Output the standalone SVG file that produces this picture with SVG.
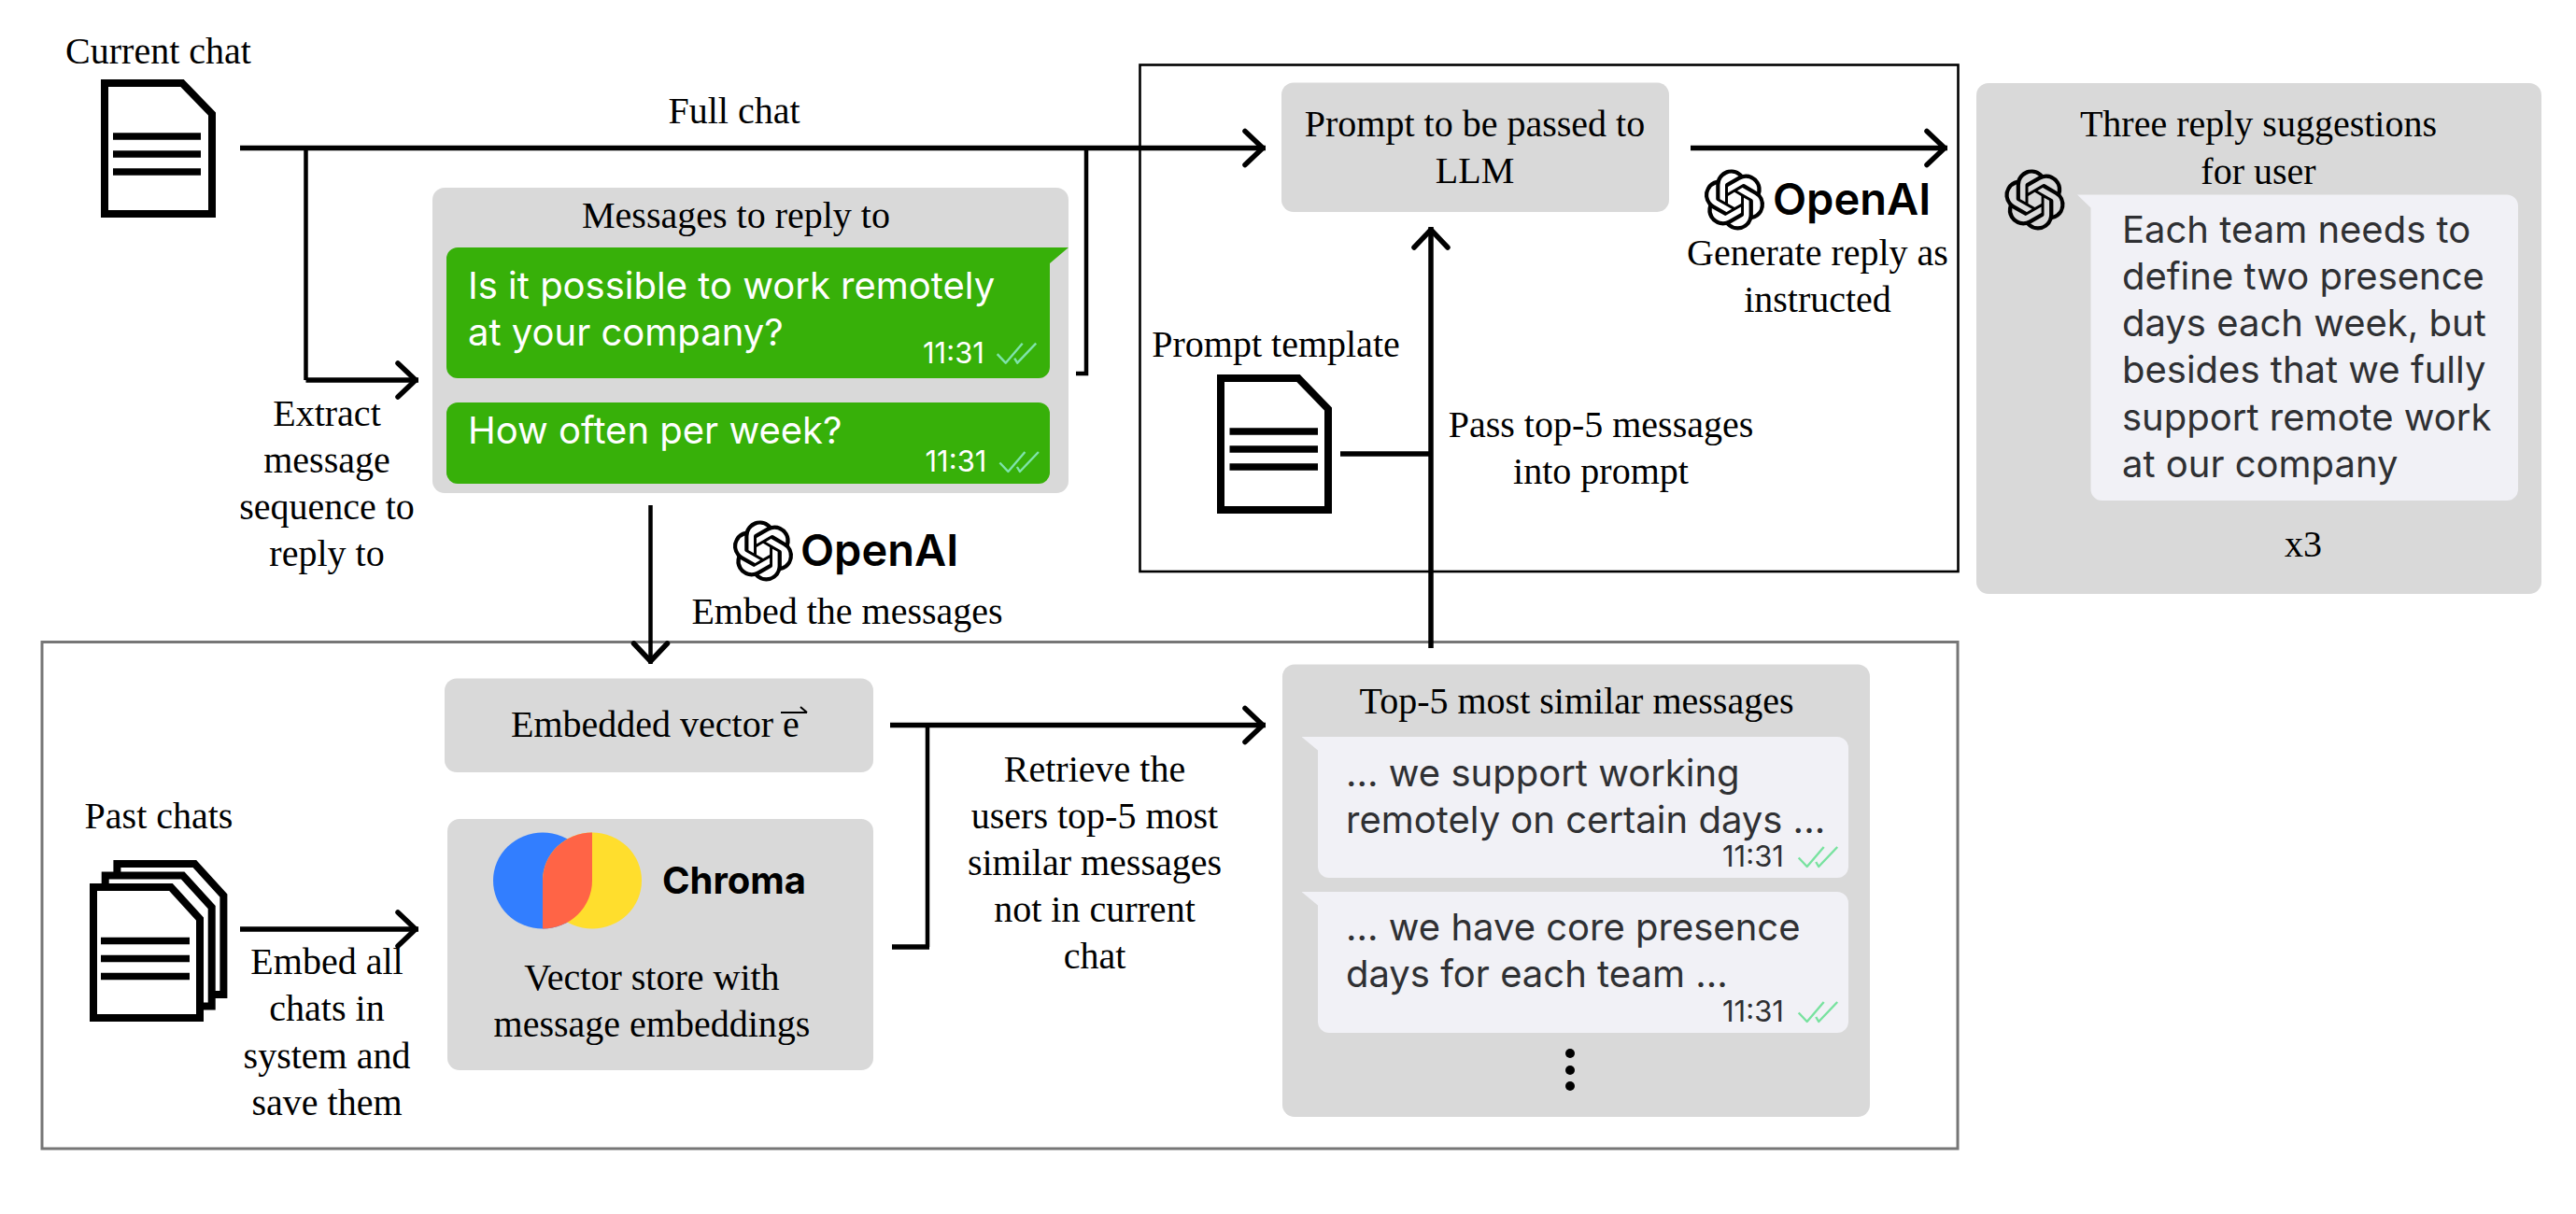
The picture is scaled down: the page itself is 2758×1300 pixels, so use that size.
<svg xmlns="http://www.w3.org/2000/svg" xmlns:xlink="http://www.w3.org/1999/xlink" width="2758" height="1300" viewBox="0 0 2758 1300">
<style>
.t{font-family:"Liberation Serif","Times New Roman",serif;font-size:40px;fill:#000;text-anchor:middle}
.tl{text-anchor:start}
.m{font-family:Inter,"Liberation Sans",sans-serif;font-size:40px;fill:#2f3033}
.w{fill:#fff}
.time{font-family:Inter,"Liberation Sans",sans-serif;font-size:31px}
.oa{font-family:Inter,"Liberation Sans",sans-serif;font-size:47px;font-weight:600;fill:#000}
.panel{fill:#d9d9d9}
.green{fill:#37b009}
.light{fill:#f1f1f6}
.doc{fill:#fff;stroke:#000;stroke-width:8;stroke-linejoin:miter}
.bar{stroke:#000;stroke-width:7.5;fill:none}
.chk{fill:none;stroke-width:2.4;stroke-linejoin:round}
.c5{fill:none;stroke:#000;stroke-width:5.5}
.c4{fill:none;stroke:#000;stroke-width:4.5}
</style>
<defs>
<marker id="arrow" markerUnits="userSpaceOnUse" markerWidth="30" markerHeight="46" refX="27" refY="23" orient="auto" viewBox="0 0 30 46">
<path d="M5,5 L24,23 L5,41" fill="none" stroke="#000" stroke-width="5.5" stroke-linecap="round" stroke-linejoin="round"/>
</marker>
<symbol id="openai" viewBox="0 0 24 24" overflow="visible">
<path fill="#000" d="M22.2819 9.8211a5.9847 5.9847 0 0 0-.5157-4.9108 6.0462 6.0462 0 0 0-6.5098-2.9A6.0651 6.0651 0 0 0 4.9807 4.1818a5.9847 5.9847 0 0 0-3.9977 2.9 6.0462 6.0462 0 0 0 .7427 7.0966 5.98 5.98 0 0 0 .511 4.9107 6.051 6.051 0 0 0 6.5146 2.9001A5.9847 5.9847 0 0 0 13.2599 24a6.0557 6.0557 0 0 0 5.7718-4.2058 5.9894 5.9894 0 0 0 3.9977-2.9001 6.0557 6.0557 0 0 0-.7475-7.0729zm-9.022 12.6081a4.4755 4.4755 0 0 1-2.8764-1.0408l.1419-.0804 4.7783-2.7582a.7948.7948 0 0 0 .3927-.6813v-6.7369l2.02 1.1686a.071.071 0 0 1 .038.052v5.5826a4.504 4.504 0 0 1-4.4945 4.4944zm-9.6607-4.1254a4.4708 4.4708 0 0 1-.5346-3.0137l.142.0852 4.783 2.7582a.7712.7712 0 0 0 .7806 0l5.8428-3.3685v2.3324a.0804.0804 0 0 1-.0332.0615L9.74 19.9502a4.4992 4.4992 0 0 1-6.1408-1.6464zM2.3408 7.8956a4.485 4.485 0 0 1 2.3655-1.9728V11.6a.7664.7664 0 0 0 .3879.6765l5.8144 3.3543-2.0201 1.1685a.0757.0757 0 0 1-.071 0l-4.8303-2.7865A4.504 4.504 0 0 1 2.3408 7.872zm16.5963 3.8558L13.1038 8.364 15.1192 7.2a.0757.0757 0 0 1 .071 0l4.8303 2.7913a4.4944 4.4944 0 0 1-.6765 8.1042v-5.6772a.79.79 0 0 0-.407-.667zm2.0107-3.0231l-.142-.0852-4.7735-2.7818a.7759.7759 0 0 0-.7854 0L9.409 9.2297V6.8974a.0662.0662 0 0 1 .0284-.0615l4.8303-2.7866a4.4992 4.4992 0 0 1 6.6802 4.66zM8.3065 12.863l-2.02-1.1638a.0804.0804 0 0 1-.038-.0567V6.0742a4.4992 4.4992 0 0 1 7.3757-3.4537l-.142.0805L8.704 5.459a.7948.7948 0 0 0-.3927.6813zm1.0976-2.3654l2.602-1.4998 2.6069 1.4998v2.9994l-2.5974 1.4997-2.6067-1.4997Z"/>
</symbol>
<g id="ticks"><path d="M0,11.5 L9,21 L27,0"/><path d="M18.5,16 L21.5,21 L41.5,0"/></g>
</defs>

<g id="frames">
<rect id="frame-retrieval" x="45" y="687.5" width="2051" height="542.5" fill="none" stroke="#767676" stroke-width="3"/>
<rect id="frame-prompt" x="1220.5" y="69.5" width="876" height="542.5" fill="none" stroke="#000" stroke-width="2.6"/>
</g>

<g id="connectors">
<path class="c5" d="M257,158.5 H1355" marker-end="url(#arrow)"/>
<path class="c4" d="M327.5,158.5 V407"/>
<path class="c5" d="M327.5,407 H448" marker-end="url(#arrow)"/>
<path class="c4" d="M1163,158.5 V400 H1152"/>
<path class="c4" d="M696.5,541 V711" marker-end="url(#arrow)"/>
<path class="c5" d="M1810,158.5 H2085" marker-end="url(#arrow)"/>
<path class="c5" d="M1532,694 V243" marker-end="url(#arrow)"/>
<path class="c5" d="M1435,486 H1532"/>
<path class="c5" d="M257,995 H448" marker-end="url(#arrow)"/>
<path class="c5" d="M953,776.5 H1355" marker-end="url(#arrow)"/>
<path class="c4" d="M993,776.5 V1014"/>
<path class="c5" d="M955,1014 H995"/>
</g>

<g id="node-current-chat">
<text class="t" x="169.5" y="68">Current chat</text>
<path class="doc" d="M112,89 H195 L227,122 V229 H112 Z"/>
<path class="bar" d="M121,146 H215 M121,165 H215 M121,184 H215"/>
</g>

<g id="label-full-chat"><text class="t" x="786" y="131.5">Full chat</text></g>

<g id="label-extract">
<text class="t" x="350" y="455.5">Extract</text>
<text class="t" x="350" y="506">message</text>
<text class="t" x="350" y="556">sequence to</text>
<text class="t" x="350" y="606">reply to</text>
</g>

<g id="node-messages">
<rect class="panel" x="463" y="201" width="681" height="327" rx="13"/>
<text class="t" x="788" y="244">Messages to reply to</text>
<path class="green" d="M490,265 H1144 L1124,282 V393 A12,12 0 0 1 1112,405 H490 A12,12 0 0 1 478,393 V277 A12,12 0 0 1 490,265 Z"/>
<text class="m w" x="501" y="320">Is it possible to work remotely</text>
<text class="m w" x="501" y="370">at your company?</text>
<text class="time w" x="988" y="389">11:31</text>
<use href="#ticks" class="chk" stroke="#7fe3ab" x="1067.7" y="367.7"/>
<rect class="green" x="478" y="431" width="646" height="87" rx="12"/>
<text class="m w" x="501" y="475">How often per week?</text>
<text class="time w" x="990.5" y="505">11:31</text>
<use href="#ticks" class="chk" stroke="#7fe3ab" x="1070.4" y="484"/>
</g>

<g id="node-openai-embed">
<use href="#openai" x="784.5" y="557.5" width="65" height="65"/>
<text class="oa" x="857" y="606">OpenAI</text>
<text class="t" x="907" y="668">Embed the messages</text>
</g>

<g id="node-prompt">
<rect class="panel" x="1372" y="88.5" width="415" height="138.5" rx="13"/>
<text class="t" x="1579" y="146">Prompt to be passed to</text>
<text class="t" x="1579" y="196">LLM</text>
</g>

<g id="node-openai-generate">
<use href="#openai" x="1824.5" y="181.5" width="65" height="65"/>
<text class="oa" x="1898" y="229.5">OpenAI</text>
<text class="t" x="1946" y="284">Generate reply as</text>
<text class="t" x="1946" y="333.5">instructed</text>
</g>

<g id="node-prompt-template">
<text class="t" x="1366" y="382">Prompt template</text>
<path class="doc" d="M1307,405 H1390 L1422,438 V546 H1307 Z"/>
<path class="bar" d="M1316.5,462 H1411 M1316.5,481 H1411 M1316.5,500 H1411"/>
</g>

<g id="label-pass">
<text class="t" x="1714" y="468">Pass top-5 messages</text>
<text class="t" x="1714" y="517.5">into prompt</text>
</g>

<g id="node-suggestions">
<rect class="panel" x="2116" y="89" width="605" height="547" rx="13"/>
<text class="t" x="2418" y="146">Three reply suggestions</text>
<text class="t" x="2418" y="196.5">for user</text>
<use href="#openai" x="2146" y="181.5" width="65" height="65"/>
<path class="light" d="M2224,208.5 H2684 A12,12 0 0 1 2696,220.5 V524 A12,12 0 0 1 2684,536 H2250.5 A12,12 0 0 1 2238.5,524 V222.5 Z"/>
<text class="m" x="2272" y="260">Each team needs to</text>
<text class="m" x="2272" y="310">define two presence</text>
<text class="m" x="2272" y="360">days each week, but</text>
<text class="m" x="2272" y="410">besides that we fully</text>
<text class="m" x="2272" y="461">support remote work</text>
<text class="m" x="2272" y="511">at our company</text>
<text class="t" x="2466" y="596">x3</text>
</g>

<g id="node-embedded-vector">
<rect class="panel" x="476" y="726.5" width="459" height="100.5" rx="13"/>
<text class="t tl" x="547" y="789">Embedded vector e</text>
<path d="M836,763 H864 M857,757 L864,763" fill="none" stroke="#000" stroke-width="2"/>
</g>

<g id="node-chroma">
<rect class="panel" x="479" y="877" width="456" height="269" rx="13"/>
<ellipse cx="581" cy="943" rx="53" ry="51.5" fill="#327eff"/>
<ellipse cx="634" cy="943" rx="53" ry="51.5" fill="#ffde2d"/>
<path fill="#ff6446" d="M634,891.5 A53,51.5 0 0 0 581,943 V994.5 A53,51.5 0 0 0 634,943 Z"/>
<text x="709" y="957" style="font-family:Inter,'Liberation Sans',sans-serif;font-size:40px;font-weight:700;fill:#000">Chroma</text>
<text class="t" x="698" y="1060">Vector store with</text>
<text class="t" x="698" y="1110">message embeddings</text>
</g>

<g id="node-past-chats">
<text class="t" x="170" y="887">Past chats</text>
<path class="doc" d="M125.4,925 H208.4 L239.4,959 V1065 H125.4 Z"/>
<path class="doc" d="M112.7,937.5 H195.7 L226.7,971.5 V1077.5 H112.7 Z"/>
<path class="doc" d="M100,950 H183 L214,984 V1090 H100 Z"/>
<path class="bar" d="M108,1007.5 H203 M108,1026.5 H203 M108,1045.5 H203"/>
</g>

<g id="label-embed-all">
<text class="t" x="350" y="1042.5">Embed all</text>
<text class="t" x="350" y="1092.5">chats in</text>
<text class="t" x="350" y="1143.5">system and</text>
<text class="t" x="350" y="1193.5">save them</text>
</g>

<g id="label-retrieve">
<text class="t" x="1172" y="837">Retrieve the</text>
<text class="t" x="1172" y="887">users top-5 most</text>
<text class="t" x="1172" y="937">similar messages</text>
<text class="t" x="1172" y="987">not in current</text>
<text class="t" x="1172" y="1037">chat</text>
</g>

<g id="node-top5">
<rect class="panel" x="1373" y="711.5" width="629" height="484.5" rx="13"/>
<text class="t" x="1688" y="764">Top-5 most similar messages</text>
<path class="light" d="M1393.5,789 H1967 A12,12 0 0 1 1979,801 V928 A12,12 0 0 1 1967,940 H1423 A12,12 0 0 1 1411,928 V803.5 Z"/>
<text class="m" x="1441" y="841.5">... we support working</text>
<text class="m" x="1441" y="891.5">remotely on certain days ...</text>
<text class="time" x="1844" y="928" fill="#2f3033">11:31</text>
<use href="#ticks" class="chk" stroke="#78e29f" x="1925.7" y="907"/>
<path class="light" d="M1393.5,955 H1967 A12,12 0 0 1 1979,967 V1094 A12,12 0 0 1 1967,1106 H1423 A12,12 0 0 1 1411,1094 V969.5 Z"/>
<text class="m" x="1441" y="1007">... we have core presence</text>
<text class="m" x="1441" y="1057">days for each team ...</text>
<text class="time" x="1844" y="1094" fill="#2f3033">11:31</text>
<use href="#ticks" class="chk" stroke="#78e29f" x="1925.7" y="1073"/>
<circle cx="1681" cy="1128" r="5"/>
<circle cx="1681" cy="1146" r="5"/>
<circle cx="1681" cy="1163" r="5"/>
</g>
</svg>
